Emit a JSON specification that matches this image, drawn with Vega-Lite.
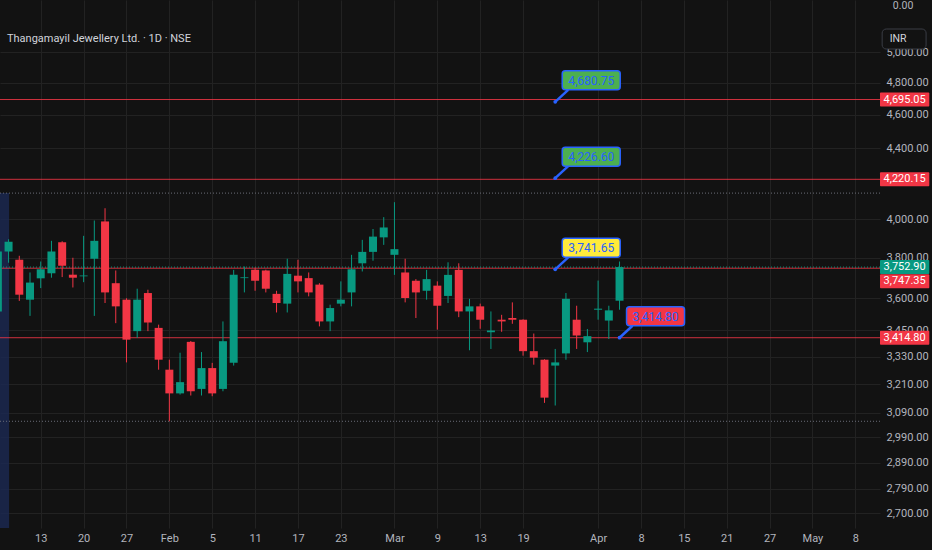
{
  "$schema": "https://vega.github.io/schema/vega-lite/v6.json",
  "width": 880,
  "height": 528,
  "autosize": {"type": "none"},
  "padding": {"left": 0, "top": 0, "right": 52, "bottom": 22},
  "background": "#121212",
  "config": {
    "view": {"stroke": null},
    "axis": {"gridColor": "#222222", "gridWidth": 1, "domain": false, "ticks": false, "labelColor": "#b2b5be", "labelFont": "Roboto", "labelFontSize": 11}
  },
  "datasets": {
    "candles": [
      {"i": -4, "d": "2026-01-07", "o": 3537, "h": 3860, "l": 3510, "c": 3832},
      {"i": -3, "d": "2026-01-08", "o": 3832, "h": 3895, "l": 3775, "c": 3882},
      {"i": -2, "d": "2026-01-09", "o": 3790, "h": 3810, "l": 3587, "c": 3617},
      {"i": -1, "d": "2026-01-12", "o": 3593, "h": 3726, "l": 3516, "c": 3676},
      {"i": 0, "d": "2026-01-13", "o": 3697, "h": 3781, "l": 3649, "c": 3742},
      {"i": 1, "d": "2026-01-14", "o": 3722, "h": 3887, "l": 3700, "c": 3832},
      {"i": 2, "d": "2026-01-16", "o": 3879, "h": 3885, "l": 3703, "c": 3760},
      {"i": 3, "d": "2026-01-19", "o": 3715, "h": 3800, "l": 3652, "c": 3700},
      {"i": 4, "d": "2026-01-20", "o": 3707, "h": 3913, "l": 3678, "c": 3711},
      {"i": 5, "d": "2026-01-21", "o": 3795, "h": 3994, "l": 3516, "c": 3887},
      {"i": 6, "d": "2026-01-22", "o": 3989, "h": 4060, "l": 3577, "c": 3628},
      {"i": 7, "d": "2026-01-23", "o": 3673, "h": 3736, "l": 3482, "c": 3561},
      {"i": 8, "d": "2026-01-27", "o": 3593, "h": 3600, "l": 3304, "c": 3406},
      {"i": 9, "d": "2026-01-28", "o": 3445, "h": 3646, "l": 3414, "c": 3593},
      {"i": 10, "d": "2026-01-29", "o": 3625, "h": 3641, "l": 3445, "c": 3485},
      {"i": 11, "d": "2026-01-30", "o": 3460, "h": 3475, "l": 3272, "c": 3316},
      {"i": 12, "d": "2026-02-01", "o": 3272, "h": 3316, "l": 3054, "c": 3170},
      {"i": 13, "d": "2026-02-02", "o": 3170, "h": 3347, "l": 3165, "c": 3218},
      {"i": 14, "d": "2026-02-03", "o": 3396, "h": 3400, "l": 3161, "c": 3179},
      {"i": 15, "d": "2026-02-04", "o": 3189, "h": 3350, "l": 3161, "c": 3279},
      {"i": 16, "d": "2026-02-05", "o": 3279, "h": 3302, "l": 3158, "c": 3170},
      {"i": 17, "d": "2026-02-06", "o": 3189, "h": 3490, "l": 3179, "c": 3399},
      {"i": 18, "d": "2026-02-09", "o": 3302, "h": 3739, "l": 3290, "c": 3715},
      {"i": 19, "d": "2026-02-10", "o": 3698, "h": 3756, "l": 3628, "c": 3702},
      {"i": 20, "d": "2026-02-11", "o": 3739, "h": 3750, "l": 3636, "c": 3685},
      {"i": 21, "d": "2026-02-12", "o": 3736, "h": 3740, "l": 3628, "c": 3646},
      {"i": 22, "d": "2026-02-13", "o": 3621, "h": 3636, "l": 3532, "c": 3577},
      {"i": 23, "d": "2026-02-16", "o": 3574, "h": 3795, "l": 3532, "c": 3719},
      {"i": 24, "d": "2026-02-17", "o": 3710, "h": 3790, "l": 3628, "c": 3682},
      {"i": 25, "d": "2026-02-18", "o": 3698, "h": 3726, "l": 3609, "c": 3628},
      {"i": 26, "d": "2026-02-19", "o": 3666, "h": 3673, "l": 3467, "c": 3490},
      {"i": 27, "d": "2026-02-20", "o": 3490, "h": 3569, "l": 3445, "c": 3553},
      {"i": 28, "d": "2026-02-23", "o": 3574, "h": 3682, "l": 3561, "c": 3593},
      {"i": 29, "d": "2026-02-24", "o": 3628, "h": 3815, "l": 3561, "c": 3742},
      {"i": 30, "d": "2026-02-25", "o": 3772, "h": 3892, "l": 3731, "c": 3830},
      {"i": 31, "d": "2026-02-26", "o": 3830, "h": 3949, "l": 3785, "c": 3909},
      {"i": 32, "d": "2026-02-27", "o": 3905, "h": 4012, "l": 3866, "c": 3957},
      {"i": 33, "d": "2026-03-02", "o": 3815, "h": 4093, "l": 3714, "c": 3844},
      {"i": 34, "d": "2026-03-04", "o": 3726, "h": 3795, "l": 3580, "c": 3601},
      {"i": 35, "d": "2026-03-05", "o": 3685, "h": 3693, "l": 3506, "c": 3628},
      {"i": 36, "d": "2026-03-06", "o": 3636, "h": 3739, "l": 3593, "c": 3693},
      {"i": 37, "d": "2026-03-09", "o": 3661, "h": 3682, "l": 3452, "c": 3564},
      {"i": 38, "d": "2026-03-10", "o": 3611, "h": 3777, "l": 3577, "c": 3714},
      {"i": 39, "d": "2026-03-11", "o": 3739, "h": 3772, "l": 3510, "c": 3537},
      {"i": 40, "d": "2026-03-12", "o": 3537, "h": 3597, "l": 3358, "c": 3561},
      {"i": 41, "d": "2026-03-13", "o": 3561, "h": 3574, "l": 3456, "c": 3498},
      {"i": 42, "d": "2026-03-16", "o": 3440, "h": 3537, "l": 3364, "c": 3448},
      {"i": 43, "d": "2026-03-17", "o": 3498, "h": 3521, "l": 3442, "c": 3490},
      {"i": 44, "d": "2026-03-18", "o": 3506, "h": 3580, "l": 3479, "c": 3498},
      {"i": 45, "d": "2026-03-19", "o": 3498, "h": 3500, "l": 3334, "c": 3354},
      {"i": 46, "d": "2026-03-20", "o": 3354, "h": 3434, "l": 3294, "c": 3325},
      {"i": 47, "d": "2026-03-23", "o": 3316, "h": 3318, "l": 3130, "c": 3152},
      {"i": 48, "d": "2026-03-24", "o": 3290, "h": 3364, "l": 3119, "c": 3304},
      {"i": 49, "d": "2026-03-25", "o": 3344, "h": 3625, "l": 3316, "c": 3597},
      {"i": 50, "d": "2026-03-27", "o": 3498, "h": 3564, "l": 3364, "c": 3425},
      {"i": 51, "d": "2026-03-30", "o": 3394, "h": 3455, "l": 3350, "c": 3422},
      {"i": 52, "d": "2026-04-01", "o": 3545, "h": 3686, "l": 3498, "c": 3550},
      {"i": 53, "d": "2026-04-02", "o": 3494, "h": 3564, "l": 3409, "c": 3542},
      {"i": 54, "d": "2026-04-06", "o": 3588, "h": 3781, "l": 3545, "c": 3752.9}
    ],
    "levels": [
      {"p": 4695.05, "kind": "level"},
      {"p": 4220.15, "kind": "level"},
      {"p": 3747.35, "kind": "level"},
      {"p": 3414.8, "kind": "level"},
      {"p": 3752.9, "kind": "last"},
      {"p": 4143, "kind": "range"},
      {"p": 3054, "kind": "range"}
    ],
    "tags": [
      {"p": 4695.05, "label": "4,695.05", "kind": "level"},
      {"p": 4220.15, "label": "4,220.15", "kind": "level"},
      {"p": 3752.9, "label": "3,752.90", "kind": "last"},
      {"p": 3747.35, "label": "3,747.35", "kind": "prev"},
      {"p": 3414.8, "label": "3,414.80", "kind": "level"}
    ],
    "callouts": [
      {"i": 48, "p": 4680.75, "label": "4,680.75", "tone": "green"},
      {"i": 48, "p": 4226.6, "label": "4,226.60", "tone": "green"},
      {"i": 48, "p": 3741.65, "label": "3,741.65", "tone": "yellow"},
      {"i": 54, "p": 3414.8, "label": "3,414.80", "tone": "red"}
    ]
  },
  "layer": [
    {
      "data": {"name": "candles"},
      "mark": {"type": "rule", "strokeWidth": 1},
      "encoding": {
        "x": {
          "field": "i", "type": "quantitative", "title": null,
          "scale": {"domain": [-3.8, 78.3], "nice": false, "zero": false},
          "axis": {
            "title": null,
            "values": [0, 4, 8, 12, 16, 20, 24, 28, 33, 37, 41, 45, 52, 56, 60, 64, 68, 72, 76],
            "labelExpr": "['13','20','27','Feb','5','11','17','23','Mar','9','13','19','Apr','8','15','21','27','May','8'][indexof([0,4,8,12,16,20,24,28,33,37,41,45,52,56,60,64,68,72,76], datum.value)]",
            "grid": true, "labelPadding": 4, "labelFlush": false, "labelOverlap": false
          }
        },
        "y": {
          "field": "l", "type": "quantitative", "title": null,
          "scale": {"type": "log", "domain": [2648, 5363], "nice": false},
          "axis": {
            "title": null,
            "orient": "right",
            "values": [2700, 2790, 2890, 2990, 3090, 3210, 3330, 3450, 3600, 3800, 4000, 4400, 4600, 4800, 5000],
            "format": ",.2f", "labelPadding": 6, "grid": true, "labelOverlap": false, "labelFlush": false
          }
        },
        "y2": {"field": "h"},
        "color": {"value": "#121212"},
        "opacity": {"value": 0}
      }
    },
    {
      "data": {"values": [{"a": 1}]},
      "mark": {"type": "rect", "fill": "#1b2850", "opacity": 0.85},
      "encoding": {
        "x": {"datum": -3.8, "type": "quantitative", "title": null},
        "x2": {"datum": -2.95},
        "y": {"datum": 4143, "type": "quantitative", "title": null},
        "y2": {"datum": 2648}
      }
    },
    {
      "data": {"name": "levels"},
      "transform": [{"filter": "datum.kind == 'range'"}],
      "mark": {"type": "rule", "stroke": "#6a6d78", "strokeWidth": 1, "strokeDash": [1, 2]},
      "encoding": {
        "y": {"field": "p", "type": "quantitative", "title": null}
      }
    },
    {
      "data": {"name": "levels"},
      "transform": [{"filter": "datum.kind == 'level'"}],
      "mark": {"type": "rule", "stroke": "#f23645", "strokeWidth": 1, "opacity": 0.85},
      "encoding": {
        "y": {"field": "p", "type": "quantitative", "title": null}
      }
    },
    {
      "data": {"name": "levels"},
      "transform": [{"filter": "datum.kind == 'last'"}],
      "mark": {"type": "rule", "stroke": "#089981", "strokeWidth": 1, "strokeDash": [1, 2]},
      "encoding": {
        "y": {"field": "p", "type": "quantitative", "title": null}
      }
    },
    {
      "data": {"name": "candles"},
      "mark": {"type": "rule", "strokeWidth": 1},
      "encoding": {
        "x": {"field": "i", "type": "quantitative", "title": null},
        "y": {"field": "l", "type": "quantitative", "title": null},
        "y2": {"field": "h"},
        "color": {"condition": {"test": "datum.c >= datum.o", "value": "#089981"}, "value": "#f23645"}
      }
    },
    {
      "data": {"name": "candles"},
      "mark": {"type": "rect", "xOffset": -4, "x2Offset": 4},
      "encoding": {
        "x": {"field": "i", "type": "quantitative", "title": null},
        "x2": {"field": "i"},
        "y": {"field": "o", "type": "quantitative", "title": null},
        "y2": {"field": "c"},
        "color": {"condition": {"test": "datum.c >= datum.o", "value": "#089981"}, "value": "#f23645"}
      }
    },
    {
      "data": {"name": "callouts"},
      "mark": {"type": "rule", "stroke": "#2962ff", "strokeWidth": 2.5, "x2Offset": 13, "y2Offset": -12},
      "encoding": {
        "x": {"field": "i", "type": "quantitative", "title": null},
        "x2": {"field": "i"},
        "y": {"field": "p", "type": "quantitative", "title": null},
        "y2": {"field": "p"}
      }
    },
    {
      "data": {"name": "callouts"},
      "mark": {"type": "point", "filled": true, "size": 14, "color": "#2962ff", "opacity": 1},
      "encoding": {
        "x": {"field": "i", "type": "quantitative", "title": null},
        "y": {"field": "p", "type": "quantitative", "title": null}
      }
    },
    {
      "data": {"name": "callouts"},
      "mark": {"type": "rect", "xOffset": 7, "x2Offset": 65, "yOffset": -31, "y2Offset": -12, "stroke": "#2962ff", "strokeWidth": 1.5, "cornerRadius": 3},
      "encoding": {
        "x": {"field": "i", "type": "quantitative", "title": null},
        "x2": {"field": "i"},
        "y": {"field": "p", "type": "quantitative", "title": null},
        "y2": {"field": "p"},
        "fill": {"field": "tone", "type": "nominal", "scale": {"domain": ["green", "yellow", "red"], "range": ["#4caf50", "#ffeb3b", "#f23645"]}, "legend": null}
      }
    },
    {
      "data": {"name": "callouts"},
      "mark": {"type": "text", "dx": 36, "dy": -21, "align": "center", "baseline": "middle", "fill": "#2962ff", "font": "Roboto", "fontSize": 12},
      "encoding": {
        "x": {"field": "i", "type": "quantitative", "title": null},
        "y": {"field": "p", "type": "quantitative", "title": null},
        "text": {"field": "label"}
      }
    },
    {
      "data": {"name": "tags"},
      "transform": [{"filter": "datum.kind != 'prev'"}],
      "mark": {"type": "rect", "yOffset": -7, "y2Offset": 7, "cornerRadius": 1},
      "encoding": {
        "x": {"datum": 78.3, "type": "quantitative", "title": null},
        "x2": {"datum": 82.9},
        "y": {"field": "p", "type": "quantitative", "title": null},
        "y2": {"field": "p"},
        "fill": {"condition": {"test": "datum.kind == 'last'", "value": "#089981"}, "value": "#f23645"}
      }
    },
    {
      "data": {"name": "tags"},
      "transform": [{"filter": "datum.kind == 'prev'"}],
      "mark": {"type": "rect", "yOffset": 6, "y2Offset": 20, "cornerRadius": 1, "fill": "#f23645"},
      "encoding": {
        "x": {"datum": 78.3, "type": "quantitative", "title": null},
        "x2": {"datum": 82.9},
        "y": {"field": "p", "type": "quantitative", "title": null},
        "y2": {"field": "p"}
      }
    },
    {
      "data": {"name": "tags"},
      "transform": [{"filter": "datum.kind != 'prev'"}],
      "mark": {"type": "text", "align": "center", "baseline": "middle", "fill": "#ffffff", "font": "Roboto", "fontSize": 11},
      "encoding": {
        "x": {"datum": 80.6, "type": "quantitative", "title": null},
        "y": {"field": "p", "type": "quantitative", "title": null},
        "text": {"field": "label"}
      }
    },
    {
      "data": {"name": "tags"},
      "transform": [{"filter": "datum.kind == 'prev'"}],
      "mark": {"type": "text", "align": "center", "baseline": "middle", "dy": 13, "fill": "#ffffff", "font": "Roboto", "fontSize": 11},
      "encoding": {
        "x": {"datum": 80.6, "type": "quantitative", "title": null},
        "y": {"field": "p", "type": "quantitative", "title": null},
        "text": {"field": "label"}
      }
    },
    {
      "data": {"values": [{"a": 1}]},
      "mark": {"type": "rect", "fill": "#121212", "stroke": "#3a3d45", "strokeWidth": 1, "cornerRadius": 4},
      "encoding": {
        "x": {"datum": 78.5, "type": "quantitative", "title": null},
        "x2": {"datum": 82.6},
        "y": {"datum": 5159, "type": "quantitative", "title": null},
        "y2": {"datum": 5023}
      }
    },
    {
      "data": {"values": [{"t": "INR", "x": 79.2, "y": 5090}]},
      "mark": {"type": "text", "align": "left", "baseline": "middle", "fill": "#d1d4dc", "font": "Roboto", "fontSize": 10.5},
      "encoding": {
        "x": {"field": "x", "type": "quantitative", "title": null},
        "y": {"field": "y", "type": "quantitative", "title": null},
        "text": {"field": "t"}
      }
    },
    {
      "data": {"values": [{"t": "0.00", "x": 79.5, "y": 5363}]},
      "mark": {"type": "text", "align": "left", "baseline": "top", "dy": 1, "fill": "#b2b5be", "font": "Roboto", "fontSize": 10.5},
      "encoding": {
        "x": {"field": "x", "type": "quantitative", "title": null},
        "y": {"field": "y", "type": "quantitative", "title": null},
        "text": {"field": "t"}
      }
    },
    {
      "data": {"values": [{"t": "Thangamayil Jewellery Ltd. · 1D · NSE"}]},
      "mark": {"type": "text", "align": "left", "baseline": "middle", "fill": "#d1d4dc", "font": "Roboto", "fontSize": 11},
      "encoding": {
        "x": {"datum": -3.15, "type": "quantitative", "title": null},
        "y": {"datum": 5090, "type": "quantitative", "title": null},
        "text": {"field": "t"}
      }
    }
  ]
}
